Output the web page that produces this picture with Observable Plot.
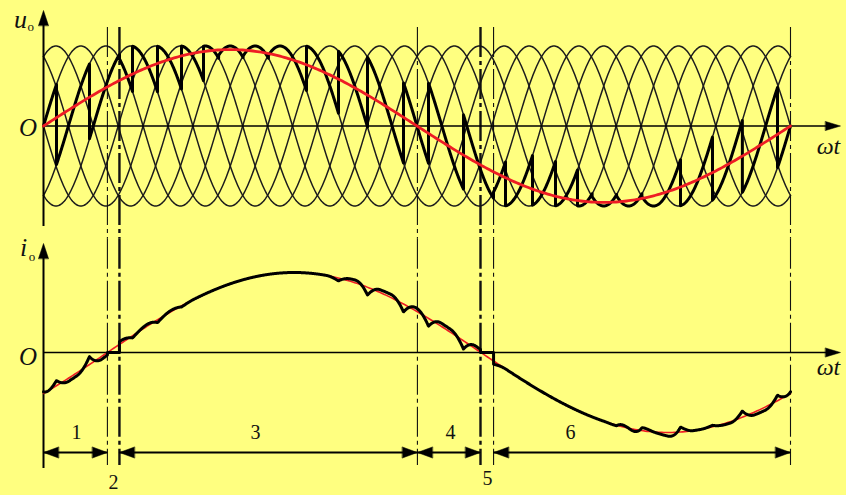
<!DOCTYPE html>
<html><head><meta charset="utf-8">
<script src="https://cdn.jsdelivr.net/npm/d3@7"></script>
<script src="https://cdn.jsdelivr.net/npm/@observablehq/plot@0.6"></script>
<style>
html,body{margin:0;padding:0;background:#ffff80;}
#chart{width:846px;height:495px;overflow:hidden;}
</style></head><body><div id="chart"></div>
<script>
// ---------- values ----------
const phaseShifts = [0, 60, 120, 180, 240, 300];      // six source voltages, input degrees
const inputPeriodsPerOutput = 5;                       // 5 source periods per output period
const sourceAmplitude = 1;
const outputAmplitude = 0.955;                         // red reference output voltage
const currentAmplitude = 1;
const currentLag = 30.8;                               // output degrees
// firing instants (input degrees) and the source voltage taken after each one
const firingTheta = [0, 31.3, 110.8, 183.1, 214.5, 274.7, 332.5, 385.5, 422, 481, 542, 633.7, 710.8, 780.7, 867.5, 927.7, 1012, 1084.3, 1113.3, 1178.3, 1233.7, 1286.7, 1322, 1381, 1442, 1535, 1612, 1684, 1768.7];
const firingCurve = [0, 1, 2, 1, 2, 3, 4, 5, 0, 1, 2, 3, 4, 5, 0, 1, 2, 1, 2, 3, 4, 5, 0, 1, 2, 3, 4, 5, 0];
// how strongly the current ripple shows after each firing
const rippleShown = [1, 1, 1, 1, 1, 0.7, 0, 0, 0, 0, 0, 0, 1, 1, 1, 1, 1, 0, 0, 0, 0, 0, 0, 4, 2, 0, 0.5, 1, 1];
const rippleGain = 0.85;
// current conduction intervals (output degrees); gaps are the dead zones 2 and 5
const conducting = [[0, 30.8], [36.6, 210.6], [216.9, 360]];
// region boundaries (output degrees)
const boundaryThin = [30.8, 180.2, 216.9, 360];
const boundaryHeavy = [36.6, 210.6];
// region arrows and labels
const regionArrows = [[0, 30.8], [36.6, 180.2], [180.2, 210.6], [216.9, 360]];
const regionLabels = ["1", "2", "3", "4", "5", "6"];
const regionLabelX = [15.9, 33.7, 102.2, 196.1, 214.0, 254.0];
const regionLabelY = [-1.0, -1.63, -1.0, -1.0, -1.57, -1.0];

// ---------- derived series ----------
const deg = Math.PI / 180;
const thetaMax = 360 * inputPeriodsPerOutput;
const Y = 1.4156;
const src = (k, t) => sourceAmplitude * Math.sin((t - phaseShifts[k]) * deg);
const intervalOf = t => { let j = 0; while (j + 1 < firingTheta.length && firingTheta[j + 1] <= t) j++; return j; };

const sourceRows = [];
for (let k = 0; k < 6; k++)
  for (let t = 0; t <= thetaMax; t += 2) sourceRows.push({phi: t / inputPeriodsPerOutput, v: src(k, t), k, panel: "u"});

const outRows = [];
for (let j = 0; j < firingTheta.length; j++) {
  const t0 = firingTheta[j], t1 = j + 1 < firingTheta.length ? firingTheta[j + 1] : thetaMax, k = firingCurve[j];
  for (let t = t0; t < t1; t += 1) outRows.push({phi: t / inputPeriodsPerOutput, v: src(k, t), panel: "u"});
  outRows.push({phi: t1 / inputPeriodsPerOutput, v: src(k, t1), panel: "u"});
}

const refRows = [];
for (let p = 0; p <= 360; p += 1) refRows.push({phi: p, v: outputAmplitude * Math.sin(p * deg), panel: "u"});

// current ripple: integral of (u_o - interval mean) in each firing interval, centred by a moving mean
function rawRipple(t) {
  const j = intervalOf(t);
  const t0 = firingTheta[j], t1 = j + 1 < firingTheta.length ? firingTheta[j + 1] : thetaMax;
  const p = phaseShifts[firingCurve[j]];
  const F = s => -Math.cos((s - p) * deg) * sourceAmplitude;
  const mean = (F(t1) - F(t0)) / ((t1 - t0) * deg);
  return rippleShown[j] * rippleGain * ((F(t) - F(t0)) - mean * (t - t0) * deg);
}
const R = [];
for (let t = 0; t <= thetaMax; t++) R.push(rawRipple(t));
const Rc = R.map((v, t) => {
  let s = 0, c = 0;
  for (let u = Math.max(0, t - 30); u <= Math.min(thetaMax, t + 30); u++) { s += R[u]; c++; }
  return v - s / c;
});
const ripple = t => { const a = Math.floor(t), b = Math.min(thetaMax, a + 1), f = t - a; return Rc[a] * (1 - f) + Rc[b] * f; };

const iRef = p => currentAmplitude * Math.sin((p - currentLag) * deg);
const iRows = [];
conducting.forEach(([a, b], n) => {
  for (let p = a; p < b; p += 0.2) iRows.push({phi: p, v: iRef(p) + ripple(p * inputPeriodsPerOutput), panel: "i"});
  iRows.push({phi: b, v: iRef(b) + ripple(b * inputPeriodsPerOutput), panel: "i"});
  if (n + 1 < conducting.length) {
    iRows.push({phi: b, v: 0, panel: "i"});
    iRows.push({phi: conducting[n + 1][0], v: 0, panel: "i"});
  }
});
const iRefRows = [];
for (let p = 0; p <= 360; p += 1) iRefRows.push({phi: p, v: iRef(p), panel: "i"});

// ---------- decorations in data units ----------
const bRows = (list) => list.flatMap(x => [{x, y1: 1.231, y2: -Y, panel: "u"}, {x, y1: Y, y2: -1.4125, panel: "i"}]);
const yAxisRows = [{x: 0, y1: -1.256, y2: 1.3, panel: "u"}, {x: 0, y1: -1.45, y2: 1.25, panel: "i"}];
const yTipRows = [{x: 0, y: 1.444, panel: "u"}, {x: 0, y: 1.3625, panel: "i"}];
const xAxisRows = [{x1: 0, x2: 379, y: 0, panel: "u"}, {x1: 0, x2: 379, y: 0, panel: "i"}];
const xTipRows = [{x: 384.1, y: 0, panel: "u"}, {x: 384.1, y: 0, panel: "i"}];
const arrowY = -1.25;
const arrowRows = regionArrows.map(([a, b]) => ({x1: a, x2: b, y: arrowY, panel: "i"}));
const arrowHeadRows = regionArrows.flatMap(([a, b]) => [{x: a, y: arrowY, rot: 270, panel: "i"}, {x: b, y: arrowY, rot: 90, panel: "i"}]);
const labelRows = regionLabels.map((t, j) => ({x: regionLabelX[j], y: regionLabelY[j], t, panel: "i"}));
const axisText = [
  {x: -11.1, y: 1.331, t: "u", s: 26, panel: "u"},
  {x: -6.1, y: 1.235, t: "o", s: 13, panel: "u"},
  {x: -7.5, y: -0.03, t: "O", s: 25, panel: "u"},
  {x: 378.3, y: -0.256, t: "ωt", s: 24, panel: "u"},
  {x: -9.6, y: 1.3125, t: "i", s: 26, panel: "i"},
  {x: -5.6, y: 1.2, t: "o", s: 13, panel: "i"},
  {x: -7.5, y: -0.05, t: "O", s: 25, panel: "i"},
  {x: 378.3, y: -0.19, t: "ωt", s: 24, panel: "i"}
];
const head = (w) => ({draw(ctx, l) { ctx.moveTo(-w, 0); ctx.lineTo(0, -l); ctx.lineTo(w, 0); ctx.closePath(); }});
const serif = "'Liberation Serif', 'Times New Roman', serif";
const dash = "30,4,4,4";

const chart = Plot.plot({
  width: 846, height: 495,
  marginLeft: 43, marginRight: 56, marginTop: 12.25, marginBottom: 29.75,
  style: {background: "#ffff80", overflow: "visible"},
  x: {domain: [0, 360], axis: null},
  y: {domain: [-Y, Y], axis: null},
  fy: {domain: ["u", "i"], axis: null, padding: 0, round: false},
  marks: [
    Plot.line(sourceRows, {x: "phi", y: "v", z: "k", fy: "panel", stroke: "#1c1c1c", strokeWidth: 1.5}),
    Plot.ruleX(bRows(boundaryThin), {x: "x", y1: "y1", y2: "y2", fy: "panel", stroke: "#111", strokeWidth: 1.1, strokeDasharray: dash}),
    Plot.ruleX(bRows(boundaryHeavy), {x: "x", y1: "y1", y2: "y2", fy: "panel", stroke: "#111", strokeWidth: 2.4, strokeDasharray: dash}),
    Plot.ruleX(yAxisRows, {x: "x", y1: "y1", y2: "y2", fy: "panel", stroke: "#000", strokeWidth: 2}),
    Plot.vector(yTipRows, {x: "x", y: "y", fy: "panel", rotate: 0, length: 15, anchor: "end", shape: head(5), fill: "#000", stroke: "#000", strokeWidth: 0.5}),
    Plot.ruleY(xAxisRows, {x1: "x1", x2: "x2", y: "y", fy: "panel", stroke: "#000", strokeWidth: 1.4}),
    Plot.vector(xTipRows, {x: "x", y: "y", fy: "panel", rotate: 90, length: 15, anchor: "end", shape: head(4.5), fill: "#000", stroke: "#000", strokeWidth: 0.5}),
    Plot.line(outRows, {x: "phi", y: "v", fy: "panel", stroke: "#000", strokeWidth: 3, strokeLinejoin: "round"}),
    Plot.line(refRows, {x: "phi", y: "v", fy: "panel", stroke: "#ee1c24", strokeWidth: 2.8}),
    Plot.line(iRefRows, {x: "phi", y: "v", fy: "panel", stroke: "#ee1c24", strokeWidth: 1.6}),
    Plot.line(iRows, {x: "phi", y: "v", fy: "panel", stroke: "#000", strokeWidth: 3, strokeLinejoin: "round"}),
    Plot.ruleY(arrowRows, {x1: "x1", x2: "x2", y: "y", fy: "panel", stroke: "#000", strokeWidth: 1.8}),
    Plot.vector(arrowHeadRows, {x: "x", y: "y", fy: "panel", rotate: "rot", length: 15, anchor: "end", shape: head(5.5), fill: "#000", stroke: "#000", strokeWidth: 0.5}),
    Plot.text(labelRows, {x: "x", y: "y", fy: "panel", text: "t", fontSize: 20, fontFamily: serif, fill: "#111", lineAnchor: "middle"}),
    Plot.text(axisText.filter(d => d.t !== "o"), {x: "x", y: "y", fy: "panel", text: "t", fontSize: d => d.s, fontFamily: serif, fontStyle: "italic", fill: "#111", lineAnchor: "middle"}),
    Plot.text(axisText.filter(d => d.t === "o"), {x: "x", y: "y", fy: "panel", text: "t", fontSize: d => d.s, fontFamily: serif, fill: "#111", lineAnchor: "middle"})
  ]
});
document.getElementById("chart").appendChild(chart);
</script></body></html>
